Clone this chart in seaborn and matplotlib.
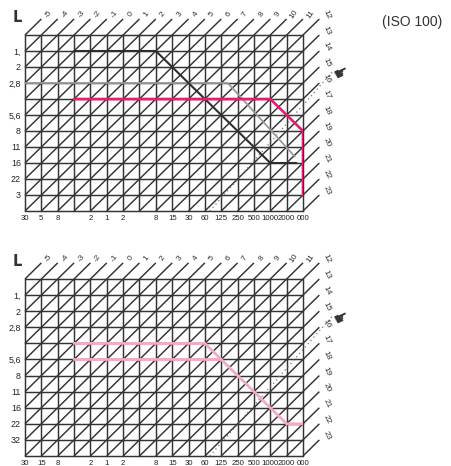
import matplotlib
matplotlib.use("Agg")
import matplotlib.pyplot as plt
import seaborn as sns

sns.set_theme(style="white")
plt.rcParams["font.family"] = ["Liberation Sans", "DejaVu Sans"]

# ---- data -------------------------------------------------------------
shutter_labels_top = ["30", "5", "8", "", "2", "1", "2", "", "8", "15", "30", "60",
                      "125", "250", "500", "1000", "2000", "000"]
shutter_labels_bottom = ["30", "15", "8", "", "2", "1", "2", "", "8", "15", "30", "60",
                         "125", "250", "500", "1000", "2000", "000"]
aperture_labels_top = ["", "1,", "2", "2,8", "", "5,6", "8", "11", "16", "22", "3", ""]
aperture_labels_bottom = ["", "1,", "2", "2,8", "", "5,6", "8", "11", "16", "22", "32", ""]
ev_top_labels = ["-5", "-4", "-3", "-2", "-1", "0", "1", "2", "3", "4", "5", "6", "7",
                 "8", "9", "10", "11"]
ev_right_labels = ["12", "13", "14", "15", "16", "17", "18", "19", "20", "21", "22", "23"]

# program lines: (shutter step index, aperture step index)
top_dark_x = [3, 8, 15, 16.6]
top_dark_y = [1, 1, 8, 8]
top_pink_x = [3, 15, 17, 17]
top_pink_y = [4, 4, 6, 10]
top_grey_x = [0, 12.4, 16.5]
top_grey_y = [3, 3, 7.6]
bot_pink1_x = [3, 11, 12]
bot_pink1_y = [4, 4, 5]
bot_pink2_x = [3, 12, 16, 17]
bot_pink2_y = [5, 5, 9, 9]
shake_x = [11.3, 18.8]
shake_y = [11, 2.3]

W, H = 451, 466
fig = plt.figure(figsize=(W / 100, H / 100), dpi=100)

GRID = "#333333"


def make_chart(top_px, bottom_px, s_labels, a_labels, lines):
    left_px, right_px = 25, 303
    ax = fig.add_axes([left_px / W, 1 - bottom_px / H,
                       (right_px - left_px) / W, (bottom_px - top_px) / H])
    nc = len(s_labels) - 1
    nr = len(a_labels) - 1
    ax.set_xlim(0, nc)
    ax.set_ylim(nr, 0)
    for s in ["top", "bottom", "left", "right"]:
        ax.spines[s].set_visible(False)
    ax.set_xticks(range(nc + 1))
    ax.set_xticklabels(s_labels, fontsize=5.6, color="#222")
    ax.set_yticks(range(nr + 1))
    ax.set_yticklabels(a_labels, fontsize=6.4, color="#222")
    ax.tick_params(length=0, pad=3)
    ax.tick_params(axis="x", pad=2.8)
    # grid
    for c in range(nc + 1):
        ax.plot([c, c], [0, nr], color=GRID, lw=1.05, zorder=1, clip_on=False)
    for r in range(nr + 1):
        ax.plot([0, nc], [r, r], color=GRID, lw=1.05, zorder=1, clip_on=False)
    # EV diagonals
    for s in range(0, nc + nr + 1):
        x0, y0 = (0, s) if s <= nr else (s - nr, nr)
        x1, y1 = (s, 0) if s <= nc else (nc, s - nc)
        ax.plot([x0, x1 + 1], [y0, y1 - 1], color=GRID, lw=1.05, zorder=1,
                clip_on=False, solid_capstyle="butt")
        if s <= nc - 1:
            ax.text(x1 + 1.45, y1 - 1.3, ev_top_labels[s], fontsize=6.0, rotation=55,
                    ha="center", va="center", color="#333")
        else:
            ax.text(x1 + 1.45, y1 - 1.25, ev_right_labels[s - nc], fontsize=6.0,
                    rotation=-65, ha="center", va="center", color="#333")
    # camera shake line
    ax.plot(shake_x, shake_y, color="#777", lw=0.9, ls=(0, (1, 2.5)), zorder=2,
            clip_on=False)
    ax.text(shake_x[1] + 0.55, shake_y[1] + 0.05, "\u261B", fontsize=12, color="#333",
            ha="center", va="center", rotation=25, family="DejaVu Sans")
    ax.text(-0.5, -1.1, "L", fontsize=10.5, fontweight="bold", color="#333",
            ha="center", va="center", family="DejaVu Sans")
    for xs, ys, col, lw in lines:
        sns.lineplot(x=xs, y=ys, sort=False, estimator=None, color=col, lw=lw,
                     ax=ax, zorder=3)
    ax.set_xlabel("")
    ax.set_ylabel("")
    return ax


make_chart(35, 211, shutter_labels_top, aperture_labels_top, [
    (top_grey_x, top_grey_y, "#9a9a9a", 1.3),
    (top_dark_x, top_dark_y, "#2e2e2e", 1.5),
    (top_pink_x, top_pink_y, "#ec1a72", 1.9),
])
make_chart(279, 456, shutter_labels_bottom, aperture_labels_bottom, [
    (bot_pink1_x, bot_pink1_y, "#f4a9c6", 2.0),
    (bot_pink2_x, bot_pink2_y, "#f4a9c6", 2.0),
])

fig.text(412 / W, 1 - 22 / H, "(ISO 100)", fontsize=10, ha="center", va="center",
         color="#333")

fig.savefig("out.png", dpi=100)
